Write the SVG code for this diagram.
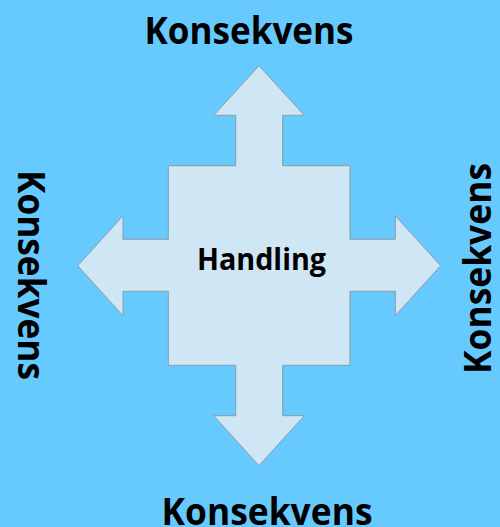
<svg xmlns="http://www.w3.org/2000/svg" width="500" height="527" viewBox="0 0 500 527">
<style>
.lbl{font-family:"Open Sans","Noto Sans","DejaVu Sans",sans-serif;font-weight:700;font-size:37px;fill:#000}
.center{font-family:"Open Sans","Noto Sans","DejaVu Sans",sans-serif;font-weight:700;font-size:30px;fill:#000}
.shape{fill:#CFE6F5;stroke:#8C9BA5;stroke-width:1}
</style>
<rect x="0" y="0" width="500" height="527" fill="#66CAFF"/>
<g id="handling">
<polygon class="shape" points="259,65.7 304.3,115.3 282.7,115.3 282.7,165.7 350,165.7 350,239.3 395.3,239.3 395.3,215.7 440.7,265.7 395.3,315.7 395.3,291.3 350,291.3 350,365.3 282.7,365.3 282.7,415.7 304.3,415.7 259,465.7 213.7,415.7 235.7,415.7 235.7,365.3 168.3,365.3 168.3,291.3 123,291.3 123,315.7 77.7,265.7 123,215.7 123,239.3 168.3,239.3 168.3,165.7 235.7,165.7 235.7,115.3 213.7,115.3"/>
<text class="center" x="197" y="270" textLength="129" lengthAdjust="spacingAndGlyphs">Handling</text>
</g>
<g id="konsekvens-top"><text class="lbl" x="144.5" y="44.3" textLength="209" lengthAdjust="spacingAndGlyphs">Konsekvens</text></g>
<g id="konsekvens-bottom"><text class="lbl" x="161.5" y="524.5" textLength="211" lengthAdjust="spacingAndGlyphs">Konsekvens</text></g>
<g id="konsekvens-left"><text class="lbl" transform="translate(18.3,170) rotate(90)" x="0" y="0" textLength="210" lengthAdjust="spacingAndGlyphs">Konsekvens</text></g>
<g id="konsekvens-right"><text class="lbl" transform="translate(490.5,374) rotate(-90)" x="0" y="0" textLength="211" lengthAdjust="spacingAndGlyphs">Konsekvens</text></g>
</svg>
